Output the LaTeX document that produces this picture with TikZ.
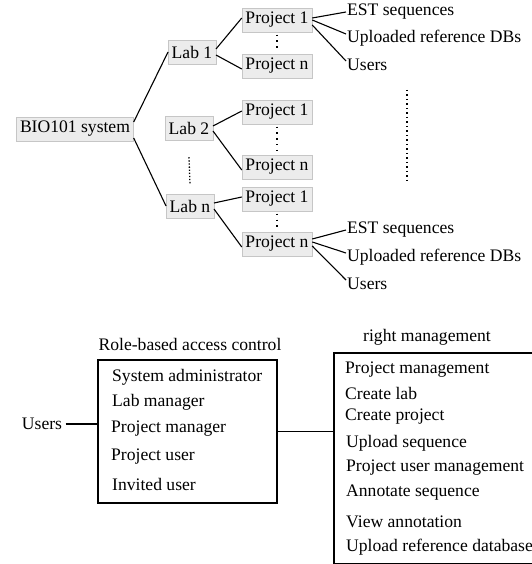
\documentclass[tikz,border=0pt]{standalone}
\usepackage{fontspec}
\setmainfont{Liberation Serif}

\begin{document}
\begin{tikzpicture}[x=1pt,y=-1pt,font=\fontsize{17.6}{21}\selectfont,
  tbox/.style={draw=gray!45,fill=gray!15,inner xsep=3.5pt,inner ysep=1pt,minimum height=24pt},
  leaf/.style={anchor=west,inner sep=1pt},
  item/.style={anchor=west,inner sep=0pt},
  link/.style={line width=1.1pt},
  vdots/.style={line width=1.3pt,dash pattern=on 1.3pt off 4.5pt,shorten >=2.5pt,shorten <=2.5pt},
  labdots/.style={line width=1.3pt,dash pattern=on 1.3pt off 1.8pt},
  frame/.style={draw,line width=2.2pt}]
  \useasboundingbox (0,0) rectangle (531,564);
  % root and its labs
  \node[tbox] (bio) at (75,129) {BIO101 system};
  \node[tbox] (lab1) at (192,52) {Lab 1};
  \node[tbox] (lab2) at (189,128) {Lab 2};
  \node[tbox] (labn) at (190,206) {Lab n};
  \draw[link] ([yshift=7pt]bio.east) -- (lab1.west);
  \draw[link] ([yshift=-9pt]bio.east) -- (labn.west);
  \draw[labdots] ([yshift=-17pt]lab2.south) -- ([yshift=9pt]labn.north);
  % projects of every lab
  \node[tbox] (p11) at (277,20) {Project 1};
  \node[tbox] (p1n) at (277,66) {Project n};
  \node[tbox] (p21) at (277,112) {Project 1};
  \node[tbox] (p2n) at (277,167) {Project n};
  \node[tbox] (pn1) at (277,199) {Project 1};
  \node[tbox] (pnn) at (277,244) {Project n};
  \draw[link] ([yshift=3pt]lab1.east) -- ([yshift=2pt]p11.west);
  \draw[link] ([yshift=-3pt]lab1.east) -- ([yshift=-3pt]p1n.west);
  \draw[link] ([yshift=2pt]lab2.east) -- ([yshift=1pt]p21.west);
  \draw[link] ([yshift=-3pt]lab2.east) -- ([yshift=-3pt]p2n.west);
  \draw[link] ([yshift=3pt]labn.east) -- ([yshift=2pt]pn1.west);
  \draw[link] ([yshift=-3pt]labn.east) -- ([yshift=-3pt]pnn.west);
  \draw[vdots] (p11) -- (p1n);
  \draw[vdots] (p21) -- (p2n);
  \draw[vdots] (pn1) -- (pnn);
  % contents of a project, top and bottom
  \node[leaf] (est1) at (346,12) {EST sequences};
  \node[leaf] (up1) at (346,38) {Uploaded reference DBs};
  \node[leaf] (usr1) at (346,65) {Users};
  \draw[link] ([yshift=2pt]p11.east) -- (est1.west);
  \draw[link] (p11.east) -- ([yshift=4pt]up1.west);
  \draw[link] ([yshift=-5pt]p11.east) -- ([yshift=4pt]usr1.west);
  \node[leaf] (est2) at (346,230) {EST sequences};
  \node[leaf] (up2) at (346,257) {Uploaded reference DBs};
  \node[leaf] (usr2) at (346,284) {Users};
  \draw[link] ([yshift=5pt]pnn.east) -- (est2.west);
  \draw[link] ([yshift=2pt]pnn.east) -- ([yshift=4pt]up2.west);
  \draw[link] ([yshift=-2pt]pnn.east) -- ([yshift=4pt]usr2.west);
  \draw[line width=1.3pt,dash pattern=on 1.3pt off 3.2pt] (407,90) -- (407,183);
  % role-based access control
  \node (rbaccap) at (190,344) {Role-based access control};
  \node[frame,minimum width=179pt,minimum height=143pt] (rbac) at (187.5,431.5) {};
  \node[item] (r1) at (112,377) {System administrator};
  \node[item] (r2) at (112,402) {Lab manager};
  \node[item] (r3) at (111,429) {Project manager};
  \node[item] (r4) at (111,457) {Project user};
  \node[item] (r5) at (112,484) {Invited user};
  \node (users) at (42,424) {Users};
  \draw[link] (users.east) -- (users.east -| rbac.west);
  % rights
  \node (rightcap) at (427,337) {right management};
  \node[frame,anchor=north west,minimum width=212pt,minimum height=211pt] (rights) at (333,352) {};
  \node[item] (g1) at (345,370) {Project management};
  \node[item] (g2) at (345,393) {Create lab};
  \node[item] (g3) at (345,417) {Create project};
  \node[item] (g4) at (346,443) {Upload sequence};
  \node[item] (g5) at (346,468) {Project user management};
  \node[item] (g6) at (346,493) {Annotate sequence};
  \node[item] (g7) at (346,522) {View annotation};
  \node[item] (g8) at (346,547) {Upload reference database};
  \draw[link] (rbac.east) -- (rbac.east -| rights.west);
\end{tikzpicture}
\end{document}
